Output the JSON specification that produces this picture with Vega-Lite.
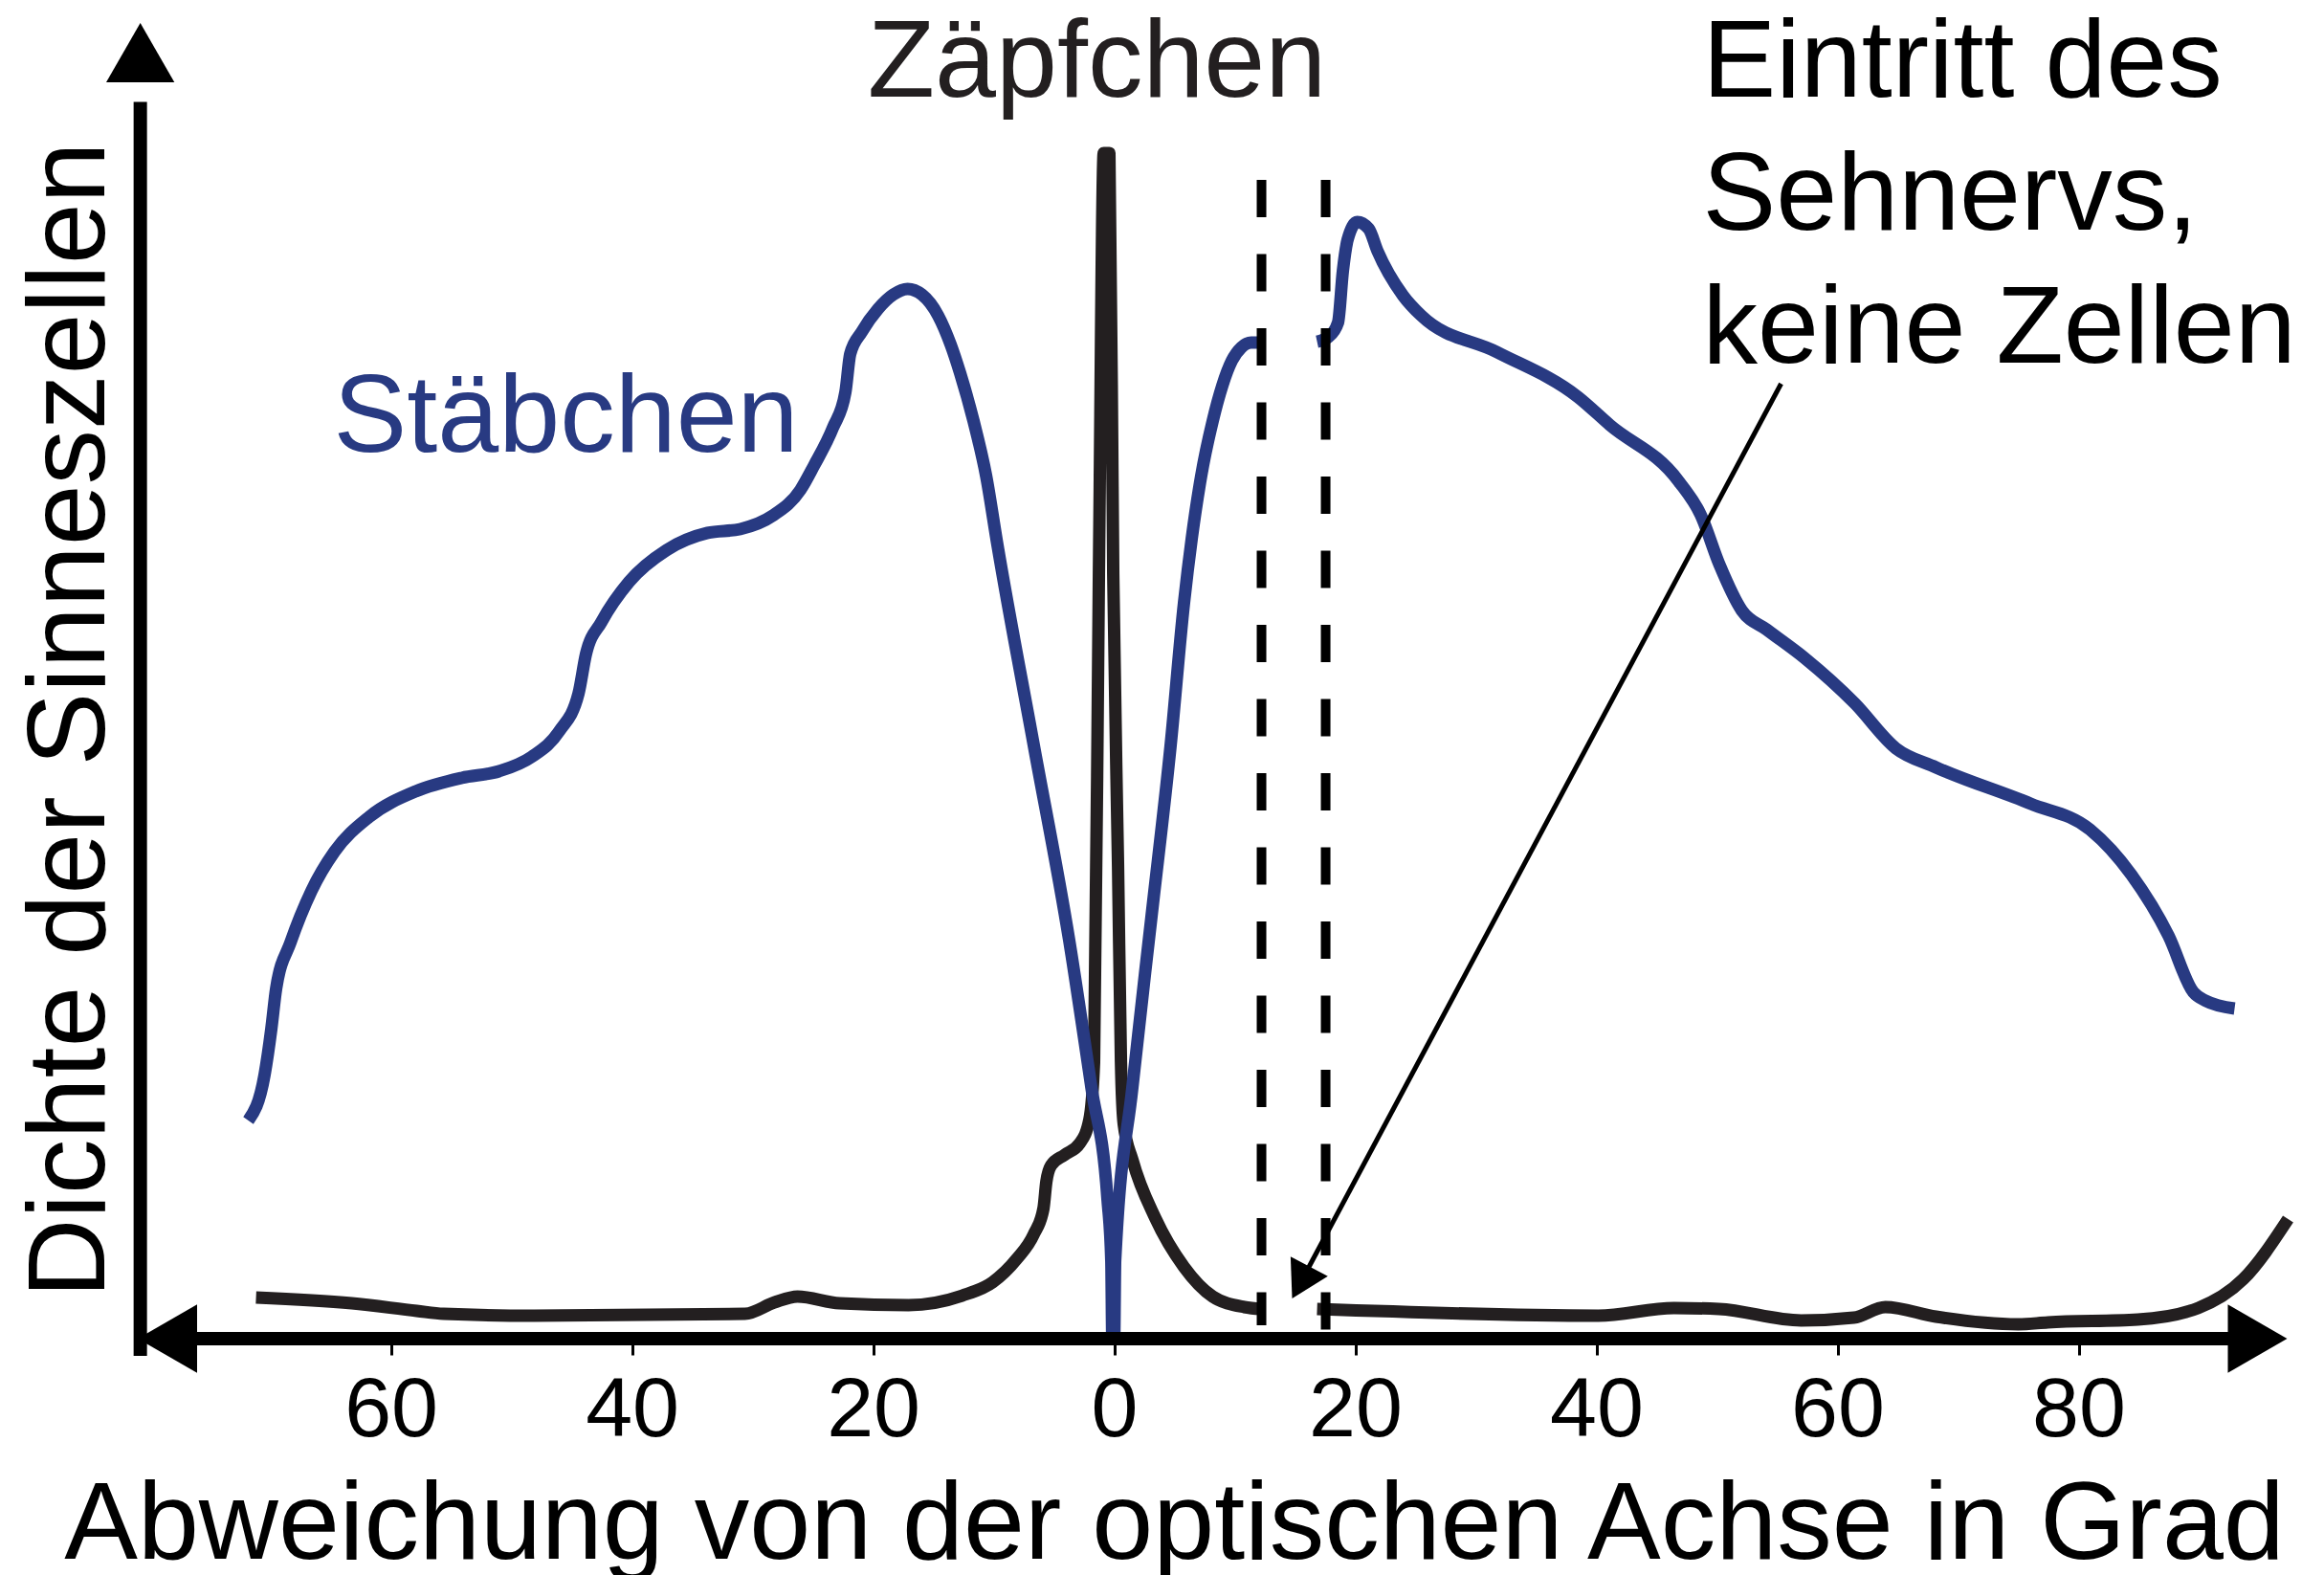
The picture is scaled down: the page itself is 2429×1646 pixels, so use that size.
{
  "$schema": "https://vega.github.io/schema/vega-lite/v6.json",
  "width": 2249,
  "height": 1375,
  "autosize": {"type": "none"},
  "padding": {"left": 144, "top": 24, "right": 36, "bottom": 247},
  "background": "white",
  "config": {"view": {"stroke": null}, "font": "Liberation Sans"},
  "datasets": {
    "zapfen": [
      {"teil": 1, "x": -71.19, "y": 3.13}, {"teil": 1, "x": -63.25, "y": 2.69}, {"teil": 1, "x": -57.86, "y": 2.11},
      {"teil": 1, "x": -55.63, "y": 1.89}, {"teil": 1, "x": -48.1, "y": 1.75}, {"teil": 1, "x": -30.63, "y": 1.89},
      {"teil": 1, "x": -28.17, "y": 2.76}, {"teil": 1, "x": -26.27, "y": 3.2}, {"teil": 1, "x": -22.78, "y": 2.69},
      {"teil": 1, "x": -17.06, "y": 2.55}, {"teil": 1, "x": -12.62, "y": 3.27}, {"teil": 1, "x": -10.08, "y": 4.29},
      {"teil": 1, "x": -8.1, "y": 6.04}, {"teil": 1, "x": -6.67, "y": 7.93}, {"teil": 1, "x": -5.87, "y": 9.89},
      {"teil": 1, "x": -5.63, "y": 11.93}, {"teil": 1, "x": -5.24, "y": 13.16}, {"teil": 1, "x": -4.13, "y": 13.96},
      {"teil": 1, "x": -2.86, "y": 14.84}, {"teil": 1, "x": -2.06, "y": 16.65}, {"teil": 1, "x": -1.67, "y": 21.02},
      {"teil": 1, "x": -1.27, "y": 58.11}, {"teil": 1, "x": -0.87, "y": 90.11}, {"teil": 1, "x": -0.4, "y": 90.11},
      {"teil": 1, "x": -0.08, "y": 58.11}, {"teil": 1, "x": 0.32, "y": 35.85}, {"teil": 1, "x": 0.56, "y": 21.02},
      {"teil": 1, "x": 0.79, "y": 16.29}, {"teil": 1, "x": 1.51, "y": 13.6}, {"teil": 1, "x": 3.41, "y": 9.16},
      {"teil": 1, "x": 5.79, "y": 5.45}, {"teil": 1, "x": 8.17, "y": 3.2}, {"teil": 1, "x": 10.79, "y": 2.4},
      {"teil": 1, "x": 12.22, "y": 2.25},
      {"teil": 2, "x": 16.83, "y": 2.25}, {"teil": 2, "x": 40.16, "y": 1.75}, {"teil": 2, "x": 46.43, "y": 2.33},
      {"teil": 2, "x": 50.16, "y": 2.25}, {"teil": 2, "x": 56.98, "y": 1.38}, {"teil": 2, "x": 61.35, "y": 1.6},
      {"teil": 2, "x": 63.97, "y": 2.4}, {"teil": 2, "x": 68.17, "y": 1.67}, {"teil": 2, "x": 75.0, "y": 1.09},
      {"teil": 2, "x": 77.46, "y": 1.24}, {"teil": 2, "x": 84.92, "y": 1.45}, {"teil": 2, "x": 89.92, "y": 2.33},
      {"teil": 2, "x": 93.65, "y": 4.51}, {"teil": 2, "x": 97.38, "y": 9.09}
    ],
    "staebchen": [
      {"teil": 1, "x": -71.83, "y": 16.58}, {"teil": 1, "x": -70.48, "y": 20.07}, {"teil": 1, "x": -69.92, "y": 23.56},
      {"teil": 1, "x": -69.52, "y": 26.62}, {"teil": 1, "x": -68.33, "y": 30.11}, {"teil": 1, "x": -66.59, "y": 34.04},
      {"teil": 1, "x": -64.68, "y": 37.02}, {"teil": 1, "x": -61.83, "y": 39.64}, {"teil": 1, "x": -57.94, "y": 41.6},
      {"teil": 1, "x": -54.13, "y": 42.62}, {"teil": 1, "x": -51.03, "y": 43.13}, {"teil": 1, "x": -48.33, "y": 44.22},
      {"teil": 1, "x": -46.03, "y": 46.18}, {"teil": 1, "x": -44.44, "y": 49.02}, {"teil": 1, "x": -43.81, "y": 52.07},
      {"teil": 1, "x": -42.54, "y": 54.47}, {"teil": 1, "x": -40.24, "y": 57.53}, {"teil": 1, "x": -37.14, "y": 59.93},
      {"teil": 1, "x": -33.73, "y": 61.24}, {"teil": 1, "x": -31.03, "y": 61.53}, {"teil": 1, "x": -28.33, "y": 62.55},
      {"teil": 1, "x": -26.03, "y": 64.51}, {"teil": 1, "x": -24.92, "y": 66.33}, {"teil": 1, "x": -23.33, "y": 69.24},
      {"teil": 1, "x": -22.3, "y": 71.93}, {"teil": 1, "x": -21.9, "y": 74.84}, {"teil": 1, "x": -20.95, "y": 76.51},
      {"teil": 1, "x": -19.6, "y": 78.25}, {"teil": 1, "x": -18.33, "y": 79.35}, {"teil": 1, "x": -17.14, "y": 79.78},
      {"teil": 1, "x": -15.95, "y": 79.35}, {"teil": 1, "x": -14.6, "y": 77.75}, {"teil": 1, "x": -13.57, "y": 75.56},
      {"teil": 1, "x": -12.78, "y": 73.38}, {"teil": 1, "x": -11.67, "y": 69.75}, {"teil": 1, "x": -10.63, "y": 65.6},
      {"teil": 1, "x": -9.68, "y": 60.29}, {"teil": 1, "x": -6.67, "y": 45.09},
      {"teil": 1, "x": -3.73, "y": 30.25}, {"teil": 1, "x": -1.9, "y": 19.13}, {"teil": 1, "x": -0.56, "y": 10.62},
      {"teil": 1, "x": -0.24, "y": 5.89}, {"teil": 1, "x": -0.16, "y": 0.07}, {"teil": 1, "x": 0.0, "y": 0.07},
      {"teil": 1, "x": 0.08, "y": 5.89}, {"teil": 1, "x": 1.51, "y": 19.13}, {"teil": 1, "x": 3.1, "y": 32.15},
      {"teil": 1, "x": 4.68, "y": 45.09}, {"teil": 1, "x": 5.79, "y": 55.93}, {"teil": 1, "x": 6.43, "y": 60.8},
      {"teil": 1, "x": 7.22, "y": 65.6}, {"teil": 1, "x": 8.17, "y": 69.75}, {"teil": 1, "x": 8.97, "y": 72.44},
      {"teil": 1, "x": 9.76, "y": 74.33}, {"teil": 1, "x": 10.56, "y": 75.35}, {"teil": 1, "x": 11.35, "y": 75.71},
      {"teil": 1, "x": 12.22, "y": 75.71},
      {"teil": 2, "x": 16.83, "y": 75.78}, {"teil": 2, "x": 17.78, "y": 76.15}, {"teil": 2, "x": 18.57, "y": 77.24},
      {"teil": 2, "x": 18.97, "y": 81.16}, {"teil": 2, "x": 19.37, "y": 83.56}, {"teil": 2, "x": 20.16, "y": 84.87},
      {"teil": 2, "x": 21.11, "y": 84.36}, {"teil": 2, "x": 21.83, "y": 82.69}, {"teil": 2, "x": 23.97, "y": 79.27},
      {"teil": 2, "x": 25.48, "y": 77.75}, {"teil": 2, "x": 31.75, "y": 74.98}, {"teil": 2, "x": 38.49, "y": 71.56},
      {"teil": 2, "x": 41.11, "y": 69.45}, {"teil": 2, "x": 46.83, "y": 65.16}, {"teil": 2, "x": 48.65, "y": 62.62},
      {"teil": 2, "x": 50.24, "y": 58.76}, {"teil": 2, "x": 52.06, "y": 55.35}, {"teil": 2, "x": 54.13, "y": 53.89},
      {"teil": 2, "x": 57.3, "y": 51.71}, {"teil": 2, "x": 61.43, "y": 48.29}, {"teil": 2, "x": 64.84, "y": 44.87},
      {"teil": 2, "x": 68.17, "y": 43.42}, {"teil": 2, "x": 76.03, "y": 40.65}, {"teil": 2, "x": 80.95, "y": 38.69},
      {"teil": 2, "x": 84.37, "y": 35.27}, {"teil": 2, "x": 87.46, "y": 30.62}, {"teil": 2, "x": 89.52, "y": 26.33},
      {"teil": 2, "x": 90.56, "y": 25.67}, {"teil": 2, "x": 92.94, "y": 25.09}
    ]
  },
  "encoding": {
    "x": {
      "field": "x", "type": "quantitative",
      "scale": {"domain": [-81, 97.5], "nice": false, "zero": false},
      "axis": {
        "values": [-60, -40, -20, 0, 20, 40, 60, 80],
        "domain": false, "grid": false, "ticks": true, "tickSize": 17, "tickWidth": 3, "tickColor": "#000000",
        "labelExpr": "'' + abs(datum.value)", "labelFont": "Liberation Sans", "labelFontSize": 88,
        "labelColor": "#000000", "labelBaseline": "alphabetic", "labelPadding": 84, "labelFlush": false, "labelOverlap": false,
        "title": "Abweichung von der optischen Achse in Grad", "titleFont": "Liberation Sans", "titleFontSize": 115,
        "titleFontWeight": "normal", "titleColor": "#000000", "titleX": 1083, "titleY": 229,
        "titleAlign": "center", "titleBaseline": "alphabetic"
      }
    },
    "y": {
      "field": "y", "type": "quantitative",
      "scale": {"domain": [0, 100], "nice": false, "zero": false},
      "axis": {
        "domain": false, "grid": false, "ticks": false, "labels": false,
        "title": "Dichte der Sinneszellen", "titleFont": "Liberation Sans", "titleFontSize": 115,
        "titleFontWeight": "normal", "titleColor": "#000000", "titleAngle": 270,
        "titleX": -36, "titleY": 728, "titleAlign": "center", "titleBaseline": "alphabetic"
      }
    }
  },
  "layer": [
    {
      "data": {"name": "zapfen"},
      "mark": {"type": "line", "color": "#231f20", "strokeWidth": 13, "interpolate": "monotone", "strokeJoin": "round", "strokeCap": "butt"},
      "encoding": {"detail": {"field": "teil", "type": "nominal"}}
    },
    {
      "data": {"name": "staebchen"},
      "mark": {"type": "line", "color": "#283a82", "strokeWidth": 13, "interpolate": "monotone", "strokeJoin": "round", "strokeCap": "butt"},
      "encoding": {"detail": {"field": "teil", "type": "nominal"}}
    },
    {
      "data": {"values": [
        {"x": 12.22, "y": 88.07, "y2": 1.02},
        {"x": 17.54, "y": 88.07, "y2": 0.65}
      ]},
      "mark": {"type": "rule", "color": "#000000", "strokeWidth": 10, "strokeDash": [39, 38.5], "strokeCap": "butt"},
      "encoding": {"y2": {"field": "y2"}}
    },
    {
      "data": {"values": [
        {"x": -77, "x2": 93.5, "y": 0, "y2": 0},
        {"x": -80.79, "x2": -80.79, "y": -1.3, "y2": 94}
      ]},
      "mark": {"type": "rule", "color": "#000000", "strokeWidth": 14, "strokeCap": "butt"},
      "encoding": {"x2": {"field": "x2"}, "y2": {"field": "y2"}}
    },
    {
      "data": {"values": [{"x": -80.79, "y": 100}]},
      "mark": {"type": "point", "shape": "M0,0L-1.15,2L1.15,2Z", "size": 3844, "filled": true, "color": "#000000", "opacity": 1, "strokeWidth": 0}
    },
    {
      "data": {"values": [{"x": -81, "y": 0}]},
      "mark": {"type": "point", "shape": "M0,0L2,-1.15L2,1.15Z", "size": 3844, "filled": true, "color": "#000000", "opacity": 1, "strokeWidth": 0}
    },
    {
      "data": {"values": [{"x": 97.3, "y": 0}]},
      "mark": {"type": "point", "shape": "M0,0L-2,-1.15L-2,1.15Z", "size": 3844, "filled": true, "color": "#000000", "opacity": 1, "strokeWidth": 0}
    },
    {
      "data": {"values": [{"x": 55.32, "y": 72.58, "x2": 15.56, "y2": 4.44}]},
      "mark": {"type": "rule", "color": "#000000", "strokeWidth": 5, "strokeCap": "butt"},
      "encoding": {"x2": {"field": "x2"}, "y2": {"field": "y2"}}
    },
    {
      "data": {"values": [{"x": 14.76, "y": 3.05}]},
      "mark": {"type": "point", "shape": "M0,0L-1.16,2L1.16,2Z", "size": 1444, "angle": 208, "filled": true, "color": "#000000", "opacity": 1, "strokeWidth": 0}
    },
    {
      "data": {"values": [{"x": -1.43, "y": 94.4, "label": "Zäpfchen"}]},
      "mark": {"type": "text", "align": "center", "baseline": "alphabetic", "fontSize": 115, "font": "Liberation Sans", "color": "#231f20"},
      "encoding": {"text": {"field": "label"}}
    },
    {
      "data": {"values": [{"x": -64.76, "y": 67.42, "label": "Stäbchen"}]},
      "mark": {"type": "text", "align": "left", "baseline": "alphabetic", "fontSize": 115, "font": "Liberation Sans", "color": "#283a82"},
      "encoding": {"text": {"field": "label"}}
    },
    {
      "data": {"values": [{"x": 48.81, "y": 94.4, "label": "Eintritt des\nSehnervs,\nkeine Zellen"}]},
      "mark": {"type": "text", "align": "left", "baseline": "alphabetic", "fontSize": 115, "font": "Liberation Sans", "color": "#000000", "lineBreak": "\n", "lineHeight": 139},
      "encoding": {"text": {"field": "label"}}
    }
  ]
}
